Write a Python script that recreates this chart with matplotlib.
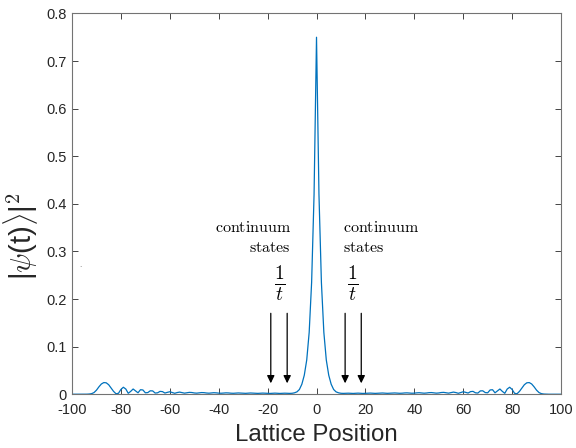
import numpy as np
import matplotlib.pyplot as plt

# lattice sites and |psi|^2 (right half, site 0..100)
sites = np.arange(-100, 101)
prob_right = [
    0.750, 0.420, 0.235, 0.130, 0.072, 0.040, 0.021, 0.010, 0.005, 0.003,
    0.0020, 0.0018, 0.0020, 0.0022, 0.0019, 0.0017, 0.0020, 0.0023, 0.0020, 0.0017,
    0.0019, 0.0022, 0.0024, 0.0021, 0.0018, 0.0020, 0.0024, 0.0026, 0.0022, 0.0019,
    0.0021, 0.0025, 0.0027, 0.0023, 0.0020, 0.0022, 0.0027, 0.0029, 0.0025, 0.0021,
    0.0023, 0.0029, 0.0032, 0.0027, 0.0022, 0.0026, 0.0033, 0.0035, 0.0029, 0.0023,
    0.0027, 0.0036, 0.0039, 0.0031, 0.0023, 0.0035, 0.0045, 0.0035, 0.0020, 0.0035,
    0.0052, 0.0040, 0.0025, 0.0055, 0.0060, 0.0030, 0.0025, 0.0070, 0.0072, 0.0035,
    0.0030, 0.0090, 0.0095, 0.0030, 0.0070, 0.0110, 0.0060, 0.0020, 0.0110, 0.0147,
    0.0100, 0.0020, 0.0010, 0.0060, 0.0130, 0.0200, 0.0240, 0.0245, 0.0215, 0.0155,
    0.0085, 0.0035, 0.0012, 0.0004, 0.0001, 0.0, 0.0, 0.0, 0.0, 0.0,
    0.0,
]
prob = np.array(prob_right[:0:-1] + prob_right)

x_ticks = np.arange(-100, 101, 20)
y_ticks = np.arange(0, 0.81, 0.1)
y_ticklabels = ['0', '0.1', '0.2', '0.3', '0.4', '0.5', '0.6', '0.7', '0.8']

# arrow positions (continuum states)
arrows_left = [-18.7, -12.0]
arrows_right = [11.7, 18.3]

plt.rcParams['font.family'] = ['Liberation Sans', 'DejaVu Sans']
plt.rcParams['mathtext.fontset'] = 'cm'
plt.rcParams['axes.unicode_minus'] = False

fig = plt.figure(figsize=(5.76, 4.48), dpi=100)
ax = fig.add_axes([0.125, 0.120, 0.849, 0.850])

ax.plot(sites, prob, color='#0072BD', lw=0.9)

ax.set_xlim(-100, 100)
ax.set_ylim(0, 0.8)
ax.set_xticks(x_ticks)
ax.set_yticks(y_ticks)
ax.set_yticklabels(y_ticklabels)
ax.tick_params(direction='in', length=4, width=0.6, labelsize=10.5, colors='0.15',
               top=True, right=True, pad=4)
ax.tick_params(axis='x', pad=6)
for s in ax.spines.values():
    s.set_color('0.45')
    s.set_linewidth(0.8)

ax.set_xlabel('Lattice Position', fontsize=17.3, color='0.15', labelpad=5)
ax.set_ylabel(r'|$\psi$(t)$\rangle$|$^2$', fontsize=21, color='0.15')
ax.yaxis.set_label_coords(-0.066, 0.415)

# annotations
ax.text(-10.5, 0.351, r'$\mathrm{continuum}$', ha='right', va='center', fontsize=11.5)
ax.text(-10.5, 0.309, r'$\mathrm{states}$', ha='right', va='center', fontsize=11.5)
ax.text(10.7, 0.351, r'$\mathrm{continuum}$', ha='left', va='center', fontsize=11.5)
ax.text(10.7, 0.309, r'$\mathrm{states}$', ha='left', va='center', fontsize=11.5)
ax.text(-14.9, 0.233, r'$\frac{1}{t}$', ha='center', va='center', fontsize=20)
ax.text(15.0, 0.233, r'$\frac{1}{t}$', ha='center', va='center', fontsize=20)

for xa in arrows_left + arrows_right:
    ax.annotate('', xy=(xa, 0.023), xytext=(xa, 0.170),
                arrowprops=dict(arrowstyle='-|>,head_length=0.45,head_width=0.22',
                                color='black', lw=0.9, shrinkA=0, shrinkB=0))

# small stray mark in the original
ax.text(-96.7, 0.270, '.', ha='center', va='center', fontsize=6, color='0.4')

fig.savefig('out.png', dpi=100)
